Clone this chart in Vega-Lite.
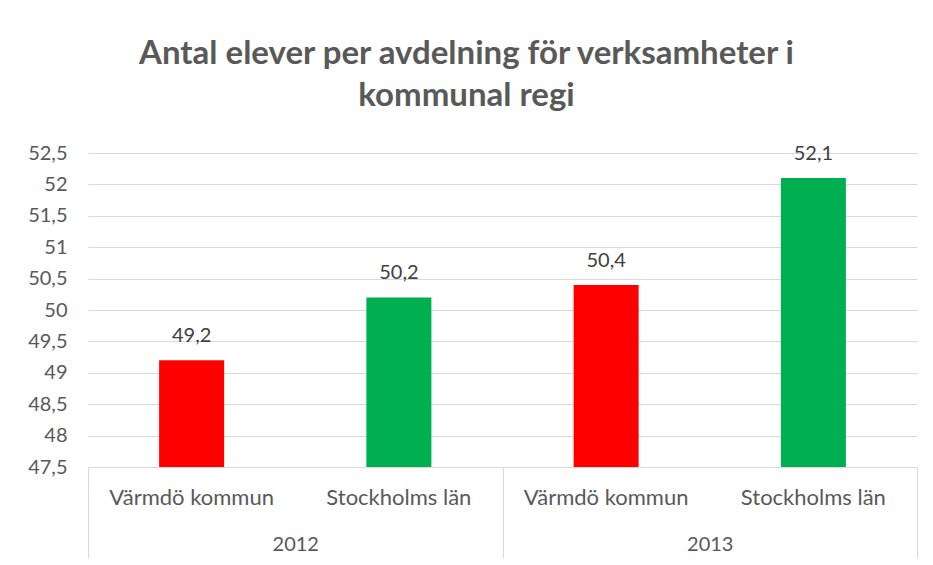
{
  "$schema": "https://vega.github.io/schema/vega-lite/v6.json",
  "width": 829,
  "height": 314,
  "autosize": {"type": "none"},
  "padding": {"left": 88, "top": 153, "right": 16, "bottom": 98},
  "background": "white",
  "config": {
    "font": "Lato",
    "view": {"stroke": null},
    "locale": {"number": {"decimal": ",", "thousands": " ", "grouping": [3], "currency": ["", " kr"]}}
  },
  "title": {
    "text": ["Antal elever per avdelning för verksamheter i", "kommunal regi"],
    "font": "Lato",
    "fontSize": 33,
    "fontWeight": "bold",
    "color": "#595959",
    "anchor": "middle",
    "dx": -36,
    "lineHeight": 42,
    "offset": 30
  },
  "data": {
    "values": [
      {"year": "2012", "omrade": "Värmdö kommun", "key": "2012|Värmdö kommun", "value": 49.2},
      {"year": "2012", "omrade": "Stockholms län", "key": "2012|Stockholms län", "value": 50.2},
      {"year": "2013", "omrade": "Värmdö kommun", "key": "2013|Värmdö kommun", "value": 50.4},
      {"year": "2013", "omrade": "Stockholms län", "key": "2013|Stockholms län", "value": 52.1}
    ]
  },
  "resolve": {"scale": {"x": "independent"}, "axis": {"x": "independent"}},
  "layer": [
    {
      "encoding": {
        "x": {
          "field": "key", "type": "nominal", "sort": null,
          "scale": {"paddingInner": 0, "paddingOuter": 0},
          "axis": {
            "orient": "bottom", "title": null,
            "labelExpr": "slice(datum.label, 5)",
            "labelAngle": 0, "labelFontSize": 22, "labelColor": "#595959",
            "labelPadding": 20, "ticks": false,
            "domain": true, "domainColor": "#D9D9D9", "domainWidth": 1,
            "grid": false
          }
        },
        "y": {
          "field": "value", "type": "quantitative",
          "scale": {"domain": [47.5, 52.5], "nice": false, "zero": false},
          "axis": {
            "title": null,
            "values": [47.5, 48, 48.5, 49, 49.5, 50, 50.5, 51, 51.5, 52, 52.5],
            "format": "~f",
            "labelOverlap": false, "labelFlush": false,
            "labelFontSize": 20, "labelColor": "#595959", "labelPadding": 21,
            "ticks": false, "domain": false,
            "grid": true, "gridColor": "#D9D9D9", "gridWidth": 1
          }
        }
      },
      "layer": [
        {
          "mark": {"type": "bar", "width": 65, "clip": true},
          "encoding": {
            "color": {
              "field": "omrade", "type": "nominal",
              "scale": {"domain": ["Värmdö kommun", "Stockholms län"], "range": ["#FF0000", "#00B050"]},
              "legend": null
            }
          }
        },
        {
          "mark": {"type": "text", "baseline": "alphabetic", "dy": -18, "fontSize": 20, "color": "#404040"},
          "encoding": {
            "text": {"field": "value", "type": "quantitative", "format": ".1f"}
          }
        }
      ]
    },
    {
      "mark": {"type": "rule", "opacity": 0},
      "encoding": {
        "x": {
          "field": "year", "type": "nominal", "sort": null,
          "scale": {"paddingInner": 0, "paddingOuter": 0},
          "axis": {
            "orient": "bottom", "title": null,
            "labelAngle": 0, "labelFontSize": 20, "labelColor": "#595959",
            "tickBand": "extent", "ticks": true, "tickSize": 91, "tickColor": "#D9D9D9", "tickWidth": 1,
            "labelPadding": -24,
            "domain": false, "grid": false
          }
        }
      }
    }
  ]
}
